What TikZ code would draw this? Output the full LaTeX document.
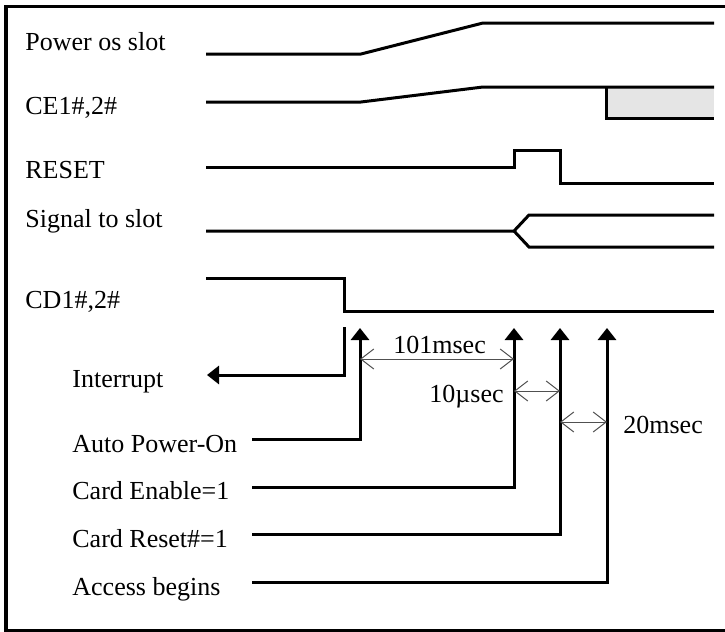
\documentclass[tikz,border=0pt]{standalone}
\usepackage{fontspec}
\setmainfont{Liberation Serif}
\usepackage{xcolor}
\usetikzlibrary{arrows.meta}
\definecolor{boxgray}{RGB}{229,229,229}
\definecolor{dimgray}{RGB}{80,80,80}

\begin{document}
\begin{tikzpicture}[x=0.5pt,y=0.5pt]
\tikzstyle{every node}+=[inner sep=0pt,anchor=base west,font=\fontsize{13}{15}\selectfont]
\tikzstyle{wave}=[black,line width=1.5pt]
\tikzstyle{ptr}=[black,line width=1.5pt,-{Triangle[length=6pt,width=9pt]}]
\tikzstyle{dim}=[dimgray,line width=0.5pt,{Straight Barb[length=6.5pt,width=10pt]}-{Straight Barb[length=6.5pt,width=10pt]}]
\useasboundingbox (0,0) rectangle (725,-632);
\draw [black,line width=1.5pt] (725,-6) -- (6,-6) -- (6,-630) -- (725,-630);
% signal names
\draw (25,-50) node (pwr) {Power os slot};
\draw (25,-114) node (ce) {CE1\#,2\#};
\draw (25,-178) node (rst) {RESET};
\draw (25,-227) node (sig) {Signal to slot};
\draw (25,-308) node (cd) {CD1\#,2\#};
% waveforms
\draw [wave] (206,-54) -- (361,-54) -- (483,-23) -- (714,-23);
\fill [boxgray] (606,-87) rectangle (714,-118);
\draw [wave] (206,-102) -- (361,-102) -- (483,-87) -- (714,-87);
\draw [wave] (606,-87) -- (606,-118) -- (714,-118);
\draw [wave] (206,-167) -- (514,-167) -- (514,-150) -- (560,-150) -- (560,-183) -- (714,-183);
\draw [wave] (206,-231) -- (514,-231) -- (529,-215) -- (714,-215);
\draw [wave] (514,-231) -- (529,-247) -- (714,-247);
\draw [wave] (206,-278) -- (344,-278) -- (344,-311) -- (714,-311);
% events
\draw (72,-387) node (irq) {Interrupt};
\draw (72,-452) node (apo) {Auto Power-On};
\draw (72,-499) node (cen) {Card Enable=1};
\draw (72,-547) node (crst) {Card Reset\#=1};
\draw (72,-595) node (acc) {Access begins};
\coordinate (irqS) at (344,-327);
\coordinate (irqT) at (207,-375);
\coordinate (apoS) at (252,-439);
\coordinate (apoT) at (360,-328);
\coordinate (cenS) at (252,-487);
\coordinate (cenT) at (514,-328);
\coordinate (crstS) at (252,-534);
\coordinate (crstT) at (560,-328);
\coordinate (accS) at (252,-582);
\coordinate (accT) at (607,-328);
\draw [ptr] (irqS) |- (irqT);
\draw [ptr] (apoS) -| (apoT);
\draw [ptr] (cenS) -| (cenT);
\draw [ptr] (crstS) -| (crstT);
\draw [ptr] (accS) -| (accT);
% delays
\coordinate (d1) at (0,-359);
\coordinate (d2) at (0,-391);
\coordinate (d3) at (0,-422);
\draw [dim] (apoT |- d1) -- (cenT |- d1);
\draw [dim] (cenT |- d2) -- (crstT |- d2);
\draw [dim] (crstT |- d3) -- (accT |- d3);
\draw (393,-353) node (t1) {101msec};
\draw (504,-402) node [anchor=base east] (t2) {10µsec};
\draw (623,-433) node (t3) {20msec};
\end{tikzpicture}
\end{document}
